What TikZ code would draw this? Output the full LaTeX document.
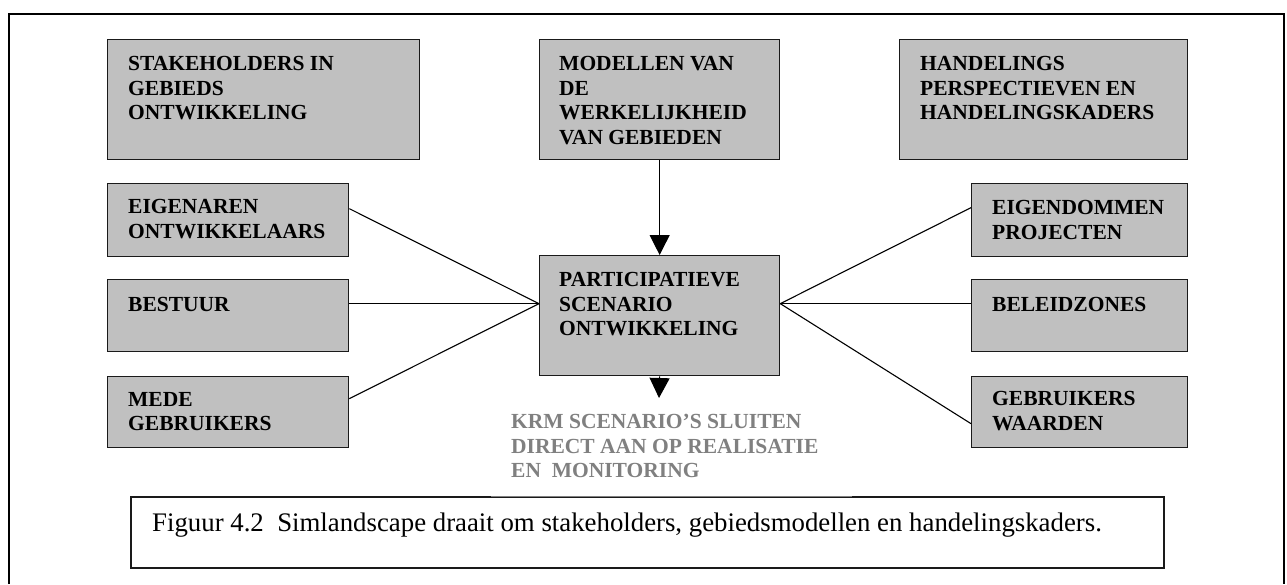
\documentclass[tikz,border=0pt]{standalone}
\usepackage{fontspec}
\setmainfont{Liberation Serif}
\usetikzlibrary{arrows.meta}

\definecolor{boxgray}{HTML}{C0C0C0}
\definecolor{edgeink}{HTML}{1A1A1A}
\definecolor{notegray}{HTML}{808080}

\tikzset{
  panel/.style={draw=edgeink, fill=boxgray, line width=1.3pt, inner sep=0pt, anchor=north west},
  paneltext/.style={anchor=north west, inner sep=0pt, align=left,
                    font=\bfseries\fontsize{21.5}{24.7}\selectfont},
  link/.style={draw=black, line width=1.1pt},
  flow/.style={draw=black, line width=1.1pt, -{Triangle[width=20pt,length=20pt]}},
  frame/.style={draw=black, line width=2pt},
}

\begin{document}
\begin{tikzpicture}[x=1pt, y=-1pt]
\useasboundingbox (0,0) rectangle (1287,584);

% outer frame (open at the bottom)
\draw[frame] (9,584) -- (9,14) -- (1284,14) -- (1284,584);

% top row of headings
\node[panel, minimum width=312pt, minimum height=120pt] (stk) at (107,39) {};
\node[paneltext] (stkt) at ([xshift=21pt, yshift=-17pt]stk.north west) {STAKEHOLDERS IN\\GEBIEDS\\ONTWIKKELING};

\node[panel, minimum width=240pt, minimum height=120pt] (mod) at (539,39) {};
\node[paneltext] (modt) at ([xshift=20pt, yshift=-17pt]mod.north west) {MODELLEN VAN\\DE\\WERKELIJKHEID\\VAN GEBIEDEN};

\node[panel, minimum width=288pt, minimum height=120pt] (hand) at (899,39) {};
\node[paneltext] (handt) at ([xshift=21pt, yshift=-17pt]hand.north west) {HANDELINGS\\PERSPECTIEVEN EN\\HANDELINGSKADERS};

% left column
\node[panel, minimum width=241pt, minimum height=73pt] (eig) at (107,183) {};
\node[paneltext] (eigt) at ([xshift=21pt, yshift=-16pt]eig.north west) {EIGENAREN\\ONTWIKKELAARS};

\node[panel, minimum width=241pt, minimum height=72pt] (best) at (107,279) {};
\node[paneltext] (bestt) at ([xshift=21pt, yshift=-18pt]best.north west) {BESTUUR};

\node[panel, minimum width=241pt, minimum height=71pt] (mede) at (107,376) {};
\node[paneltext] (medet) at ([xshift=21pt, yshift=-16pt]mede.north west) {MEDE\\GEBRUIKERS};

% centre
\node[panel, minimum width=240pt, minimum height=120pt] (part) at (539,255) {};
\node[paneltext] (partt) at ([xshift=20pt, yshift=-17pt]part.north west) {PARTICIPATIEVE\\SCENARIO\\ONTWIKKELING};

% right column
\node[panel, minimum width=216pt, minimum height=73pt] (eigd) at (971,183) {};
\node[paneltext] (eigdt) at ([xshift=21pt, yshift=-17pt]eigd.north west) {EIGENDOMMEN\\PROJECTEN};

\node[panel, minimum width=216pt, minimum height=72pt] (bel) at (971,279) {};
\node[paneltext] (belt) at ([xshift=21pt, yshift=-18pt]bel.north west) {BELEIDZONES};

\node[panel, minimum width=216pt, minimum height=71pt] (gebr) at (971,376) {};
\node[paneltext] (gebrt) at ([xshift=21pt, yshift=-15pt]gebr.north west) {GEBRUIKERS\\WAARDEN};

% junction points on the centre box
\coordinate (jl) at ([yshift=12pt]part.west);
\coordinate (jr) at ([yshift=12pt]part.east);

% spokes
\draw[link] ([yshift=11.5pt]eig.east) -- (jl);
\draw[link] ([yshift=12pt]best.east) -- (jl);
\draw[link] ([yshift=13.5pt]mede.east) -- (jl);
\draw[link] ([yshift=12.5pt]eigd.west) -- (jr);
\draw[link] ([yshift=12pt]bel.west) -- (jr);
\draw[link] ([yshift=-11.5pt]gebr.west) -- (jr);

% arrows
\draw[flow] (mod.south) -- (part.north);
\coordinate (out) at (659,398);
\draw[flow] (part.south) -- (out);

% caption box
\node[draw=edgeink, line width=1.5pt, anchor=north west, inner sep=0pt,
      minimum width=1033pt, minimum height=71pt] (cap) at (130,496) {};
\node[anchor=base west, inner sep=0pt, font=\fontsize{26.8}{32}\selectfont] (capt)
  at (152,531) {Figuur 4.2~~Simlandscape draait om stakeholders, gebiedsmodellen en handelingskaders.};

% note with white backing over the caption edge
\node[fill=white, inner sep=0pt, anchor=north west, minimum width=361pt, minimum height=94pt] (krm) at (491,402) {};
\draw[draw=gray, line width=0.6pt] (krm.south west) -- (krm.south east);
\node[paneltext, text=notegray] (krmt) at (511,414) {KRM SCENARIO’S SLUITEN\\DIRECT AAN OP REALISATIE\\EN~~MONITORING};
\end{tikzpicture}
\end{document}
